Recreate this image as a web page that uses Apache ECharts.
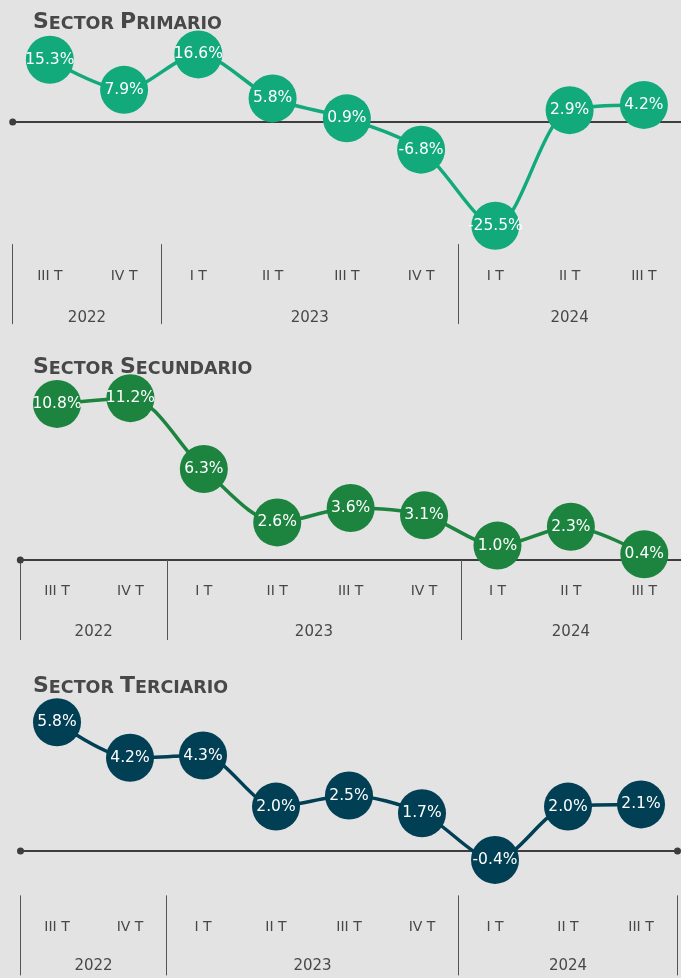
<!DOCTYPE html>
<html><head><meta charset="utf-8">
<script src="https://cdn.jsdelivr.net/npm/echarts@6/dist/echarts.min.js"></script>
<style>html,body{margin:0;padding:0;background:#e3e3e3;}#c{width:681px;height:978px;}</style>
</head><body><div id="c"></div>
<script>
// ---- data ----
const quarters = ['III T','IV T','I T','II T','III T','IV T','I T','II T','III T'];
const years = ['2022','2023','2024'];
const quartersPerYear = [2,4,3];
const primario = [15.3,7.9,16.6,5.8,0.9,-6.8,-25.5,2.9,4.2];
const secundario = [10.8,11.2,6.3,2.6,3.6,3.1,1.0,2.3,0.4];
const terciario = [5.8,4.2,4.3,2.0,2.5,1.7,-0.4,2.0,2.1];
const titleWords = [['Sector','Primario'],['Sector','Secundario'],['Sector','Terciario']];

// year boundaries / centers in quarter units
const yearBounds = [0];
quartersPerYear.forEach(n => yearBounds.push(yearBounds[yearBounds.length-1] + n));
const yearCenters = years.map((y,i) => (yearBounds[i] + yearBounds[i+1]) / 2);

// ---- layout / style ----
const panels = [
  {data: primario, color:'#12a97b', left:12.7, width:671.4, top:40.6, height:203.5, yMin:-30, yMax:20,
   dots:['circle','none'], titleTop:11, qMargin:25, yMargin:67},
  {data: secundario, color:'#1c843f', left:20.3, width:664, top:357.7, height:202.3, yMin:0, yMax:14,
   dots:['circle','none'], titleTop:356, qMargin:24, yMargin:64.5},
  {data: terciario, color:'#013f55', left:20.5, width:657, top:717.8, height:177.6, yMin:-2, yMax:6,
   dots:['circle','circle'], titleTop:675, qMargin:24.5, yMargin:63.5}
];
const FONT = 'DejaVu Sans';
const TXT = '#484848';

function smallCaps(words){
  return words.map(w => '{b|' + w[0].toUpperCase() + '}{s|' + w.slice(1).toUpperCase() + '}').join('{s| }');
}

const option = {
  backgroundColor:'#e3e3e3',
  animation:false,
  title: [], grid: [], xAxis: [], yAxis: [], series: []
};

panels.forEach((p,i) => {
  option.title.push({
    text: smallCaps(titleWords[i]), left: 33, top: p.titleTop, padding: 0,
    textStyle:{ rich:{
      b:{fontSize:22, fontWeight:'bold', color:TXT, fontFamily:FONT, lineHeight:22, verticalAlign:'bottom'},
      s:{fontSize:17.5, fontWeight:'bold', color:TXT, fontFamily:FONT, lineHeight:19, verticalAlign:'bottom'}
    }}
  });
  option.grid.push({left:p.left, width:p.width, top:p.top, height:p.height});
  option.yAxis.push({type:'value', gridIndex:i, min:p.yMin, max:p.yMax, show:false});
  // zero line axis
  option.xAxis.push({
    type:'category', gridIndex:i, data:quarters, position:'bottom',
    axisLine:{onZero:true, lineStyle:{color:'#3d3d3d', width:2}, symbol:p.dots, symbolSize:[7,7]},
    axisTick:{show:false}, axisLabel:{show:false}, splitLine:{show:false}
  });
  // quarter labels
  option.xAxis.push({
    type:'category', gridIndex:i, data:quarters, position:'bottom',
    axisLine:{show:false, onZero:false}, axisTick:{show:false}, splitLine:{show:false},
    axisLabel:{interval:0, margin:p.qMargin, color:TXT, fontSize:14, fontFamily:FONT}
  });
  // year labels + separators
  option.xAxis.push({
    type:'value', gridIndex:i, min:0, max:yearBounds[yearBounds.length-1], position:'bottom',
    axisLine:{show:false, onZero:false}, splitLine:{show:false},
    axisTick:{show:true, customValues:yearBounds, length:80, lineStyle:{color:'#555', width:1}},
    axisLabel:{customValues:yearCenters, margin:p.yMargin, color:TXT, fontSize:15, fontFamily:FONT,
      formatter: v => { const k = yearCenters.indexOf(v); return k >= 0 ? years[k] : ''; }}
  });
  option.series.push({
    type:'line', xAxisIndex:3*i, yAxisIndex:i, data:p.data, smooth:0.3, clip:false,
    symbol:'circle', symbolSize:48,
    lineStyle:{color:p.color, width:3.5}, itemStyle:{color:p.color},
    emphasis:{disabled:true},
    label:{show:true, position:'inside', color:'#fff', fontSize:15.5, fontFamily:FONT,
      formatter: q => q.value.toFixed(1) + '%'}
  });
});

const chart = echarts.init(document.getElementById('c'), null, {renderer:'canvas'});
chart.setOption(option);
</script>
</body></html>
